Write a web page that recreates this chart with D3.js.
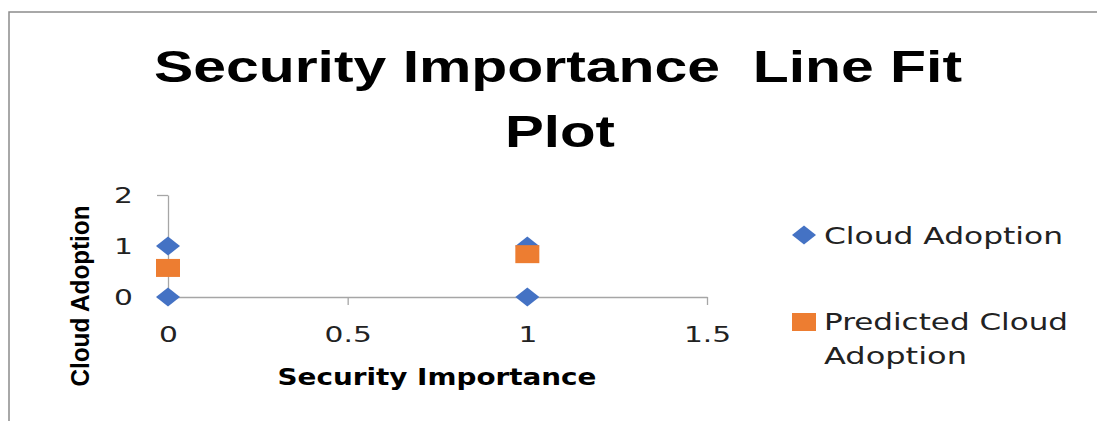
<!DOCTYPE html>
<html>
<head>
<meta charset="utf-8">
<script src="https://cdn.jsdelivr.net/npm/d3@7"></script>
<style>
  html, body { margin: 0; padding: 0; background: #fff; }
  svg { display: block; }
</style>
</head>
<body>
<div id="chart"></div>
<script>
const width = 1097;
const height = 421;

// data
const actualX = [0, 0, 1, 1];
const actualY = [0, 1, 0, 1];
const predictedX = [0, 1];
const predictedY = [0.57, 0.84];
const xTicks = [0, 0.5, 1, 1.5];
const yTicks = [0, 1, 2];
const seriesNames = ["Cloud Adoption", "Predicted Cloud Adoption"];

const blue = "#4472C4";
const orange = "#ED7D31";
const axisGrey = "#a6a6a6";
const stretch = 1.35; // the source picture is stretched sideways

const svg = d3
  .select("#chart")
  .append("svg")
  .attr("width", width)
  .attr("height", height)
  .attr("viewBox", [0, 0, width, height]);

// chart frame (only top and left edges are visible)
svg
  .append("path")
  .attr("d", "M9,421V12H1097")
  .attr("fill", "none")
  .attr("stroke", "#8c8c8c")
  .attr("stroke-width", 1.5);

// title
const title = svg
  .append("g")
  .attr("font-family", "'Liberation Sans', Arial, sans-serif")
  .attr("font-weight", "bold")
  .attr("font-size", 45)
  .attr("fill", "#000")
  .attr("text-anchor", "middle");

title
  .append("text")
  .attr("x", 558)
  .attr("y", 82)
  .attr("textLength", 808)
  .attr("lengthAdjust", "spacingAndGlyphs")
  .style("white-space", "pre")
  .text("Security Importance  Line Fit");

title
  .append("text")
  .attr("x", 560)
  .attr("y", 147)
  .attr("textLength", 110)
  .attr("lengthAdjust", "spacingAndGlyphs")
  .text("Plot");

const x = d3.scaleLinear().domain([0, 1.5]).range([168, 707]);
const y = d3.scaleLinear().domain([0, 2]).range([297, 195]);

// axes
const xAxis = svg
  .append("g")
  .attr("transform", `translate(0,${y(0)})`)
  .call(
    d3
      .axisBottom(x)
      .tickValues(xTicks)
      .tickFormat(d3.format(""))
      .tickSize(8)
      .tickSizeOuter(0)
  );

const yAxis = svg
  .append("g")
  .attr("transform", `translate(${x(0)},0)`)
  .call(
    d3
      .axisLeft(y)
      .tickValues(yTicks)
      .tickFormat(d3.format(""))
      .tickSize(11)
      .tickSizeOuter(0)
  );

[xAxis, yAxis].forEach((g) => {
  g.select(".domain").attr("stroke", axisGrey).attr("stroke-width", 1.3);
  g.selectAll(".tick line").attr("stroke", axisGrey).attr("stroke-width", 1.3);
  g.selectAll(".tick text")
    .attr("font-family", "'DejaVu Sans', Verdana, sans-serif")
    .attr("font-size", 22)
    .attr("fill", "#222");
});

xAxis
  .selectAll(".tick text")
  .attr("y", 45)
  .attr("dy", 0)
  .attr("transform", `scale(${stretch},1)`);

yAxis
  .selectAll(".tick text")
  .attr("x", -35 / stretch)
  .attr("dy", "0.36em")
  .attr("transform", `scale(${stretch},1)`);

// axis titles
svg
  .append("text")
  .attr("x", 437)
  .attr("y", 385)
  .attr("text-anchor", "middle")
  .attr("font-family", "'DejaVu Sans', Verdana, sans-serif")
  .attr("font-weight", "bold")
  .attr("font-size", 23)
  .attr("textLength", 319)
  .attr("lengthAdjust", "spacingAndGlyphs")
  .text("Security Importance");

svg
  .append("text")
  .attr("transform", "translate(89,296) rotate(-90)")
  .attr("text-anchor", "middle")
  .attr("font-family", "'Liberation Sans', Arial, sans-serif")
  .attr("font-weight", "bold")
  .attr("font-size", 25)
  .attr("textLength", 181)
  .attr("lengthAdjust", "spacingAndGlyphs")
  .text("Cloud Adoption");

// markers
const diamond = "M-12,0L0,-9.5L12,0L0,9.5Z";

svg
  .append("g")
  .selectAll("path")
  .data(actualX.map((d, i) => ({ x: d, y: actualY[i] })))
  .join("path")
  .attr("d", diamond)
  .attr("transform", (d) => `translate(${x(d.x)},${y(d.y)})`)
  .attr("fill", blue);

svg
  .append("g")
  .selectAll("rect")
  .data(predictedX.map((d, i) => ({ x: d, y: predictedY[i] })))
  .join("rect")
  .attr("x", (d) => x(d.x) - 12)
  .attr("y", (d) => y(d.y) - 9)
  .attr("width", 24)
  .attr("height", 18)
  .attr("fill", orange);

// legend
const legend = svg
  .append("g")
  .attr("font-family", "'DejaVu Sans', Verdana, sans-serif")
  .attr("font-size", 23)
  .attr("fill", "#222");

legend
  .append("path")
  .attr("d", diamond)
  .attr("transform", "translate(804,235)")
  .attr("fill", blue);

legend
  .append("text")
  .attr("x", 824)
  .attr("y", 244)
  .attr("textLength", 239)
  .attr("lengthAdjust", "spacingAndGlyphs")
  .text(seriesNames[0]);

legend
  .append("rect")
  .attr("x", 792)
  .attr("y", 313)
  .attr("width", 24)
  .attr("height", 18)
  .attr("fill", orange);

const words = seriesNames[1].split(" ");
legend
  .append("text")
  .attr("x", 824)
  .attr("y", 330)
  .attr("textLength", 244)
  .attr("lengthAdjust", "spacingAndGlyphs")
  .text(words.slice(0, 2).join(" "));

legend
  .append("text")
  .attr("x", 824)
  .attr("y", 364)
  .attr("textLength", 143)
  .attr("lengthAdjust", "spacingAndGlyphs")
  .text(words[2]);
</script>
</body>
</html>
